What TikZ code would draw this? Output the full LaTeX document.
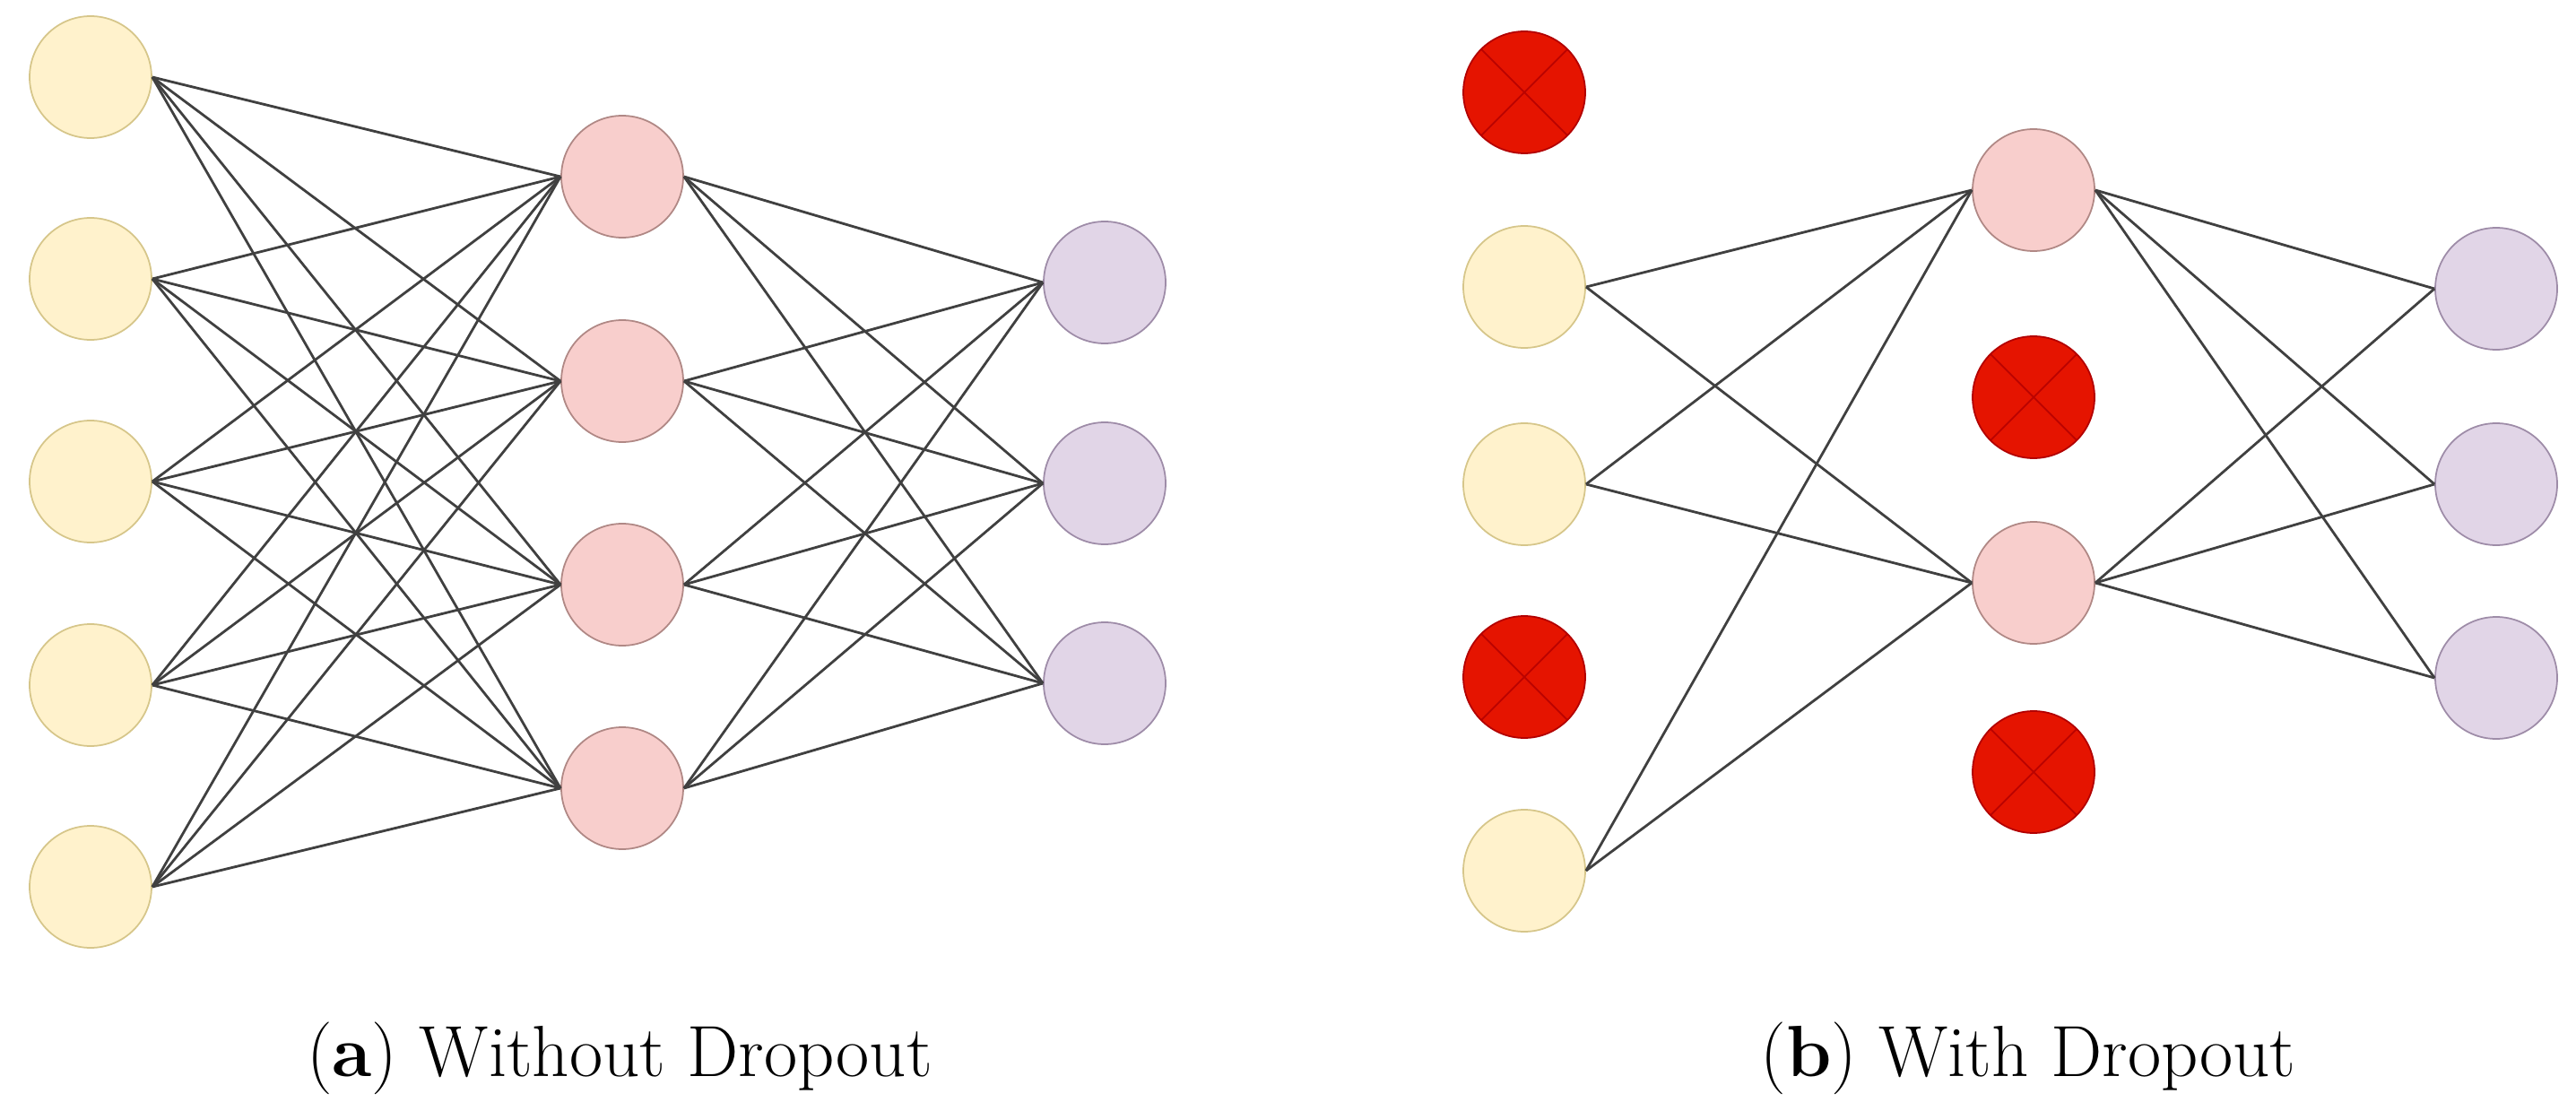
\documentclass[tikz,border=0pt]{standalone}
\usepackage{tikz}
\definecolor{inpfill}{HTML}{FFF2CC}
\definecolor{inpline}{HTML}{D6C68A}
\definecolor{hidfill}{HTML}{F8CECC}
\definecolor{hidline}{HTML}{B08885}
\definecolor{outfill}{HTML}{E1D5E7}
\definecolor{outborder}{HTML}{9E8CA8}
\definecolor{dropfill}{HTML}{E51400}
\definecolor{dropline}{HTML}{B20000}

\begin{document}
\begin{tikzpicture}[
    unit/.style={circle, minimum size=1.36cm, inner sep=0pt, line width=0.5pt},
    inp/.style={unit, draw=inpline, fill=inpfill},
    hid/.style={unit, draw=hidline, fill=hidfill},
    outp/.style={unit, draw=outborder, fill=outfill},
    drop/.style={unit, draw=dropline, fill=dropfill,
        path picture={\draw[dropline!85!dropfill, line width=0.5pt]
            (path picture bounding box.south west) -- (path picture bounding box.north east)
            (path picture bounding box.north west) -- (path picture bounding box.south east);}},
    wire/.style={draw=black!75, line width=0.8pt}
]
    \useasboundingbox (0,0) rectangle (28.73,-12.39);

    % (a) without dropout
    \foreach \n/\y in {1/-0.86,2/-3.11,3/-5.37,4/-7.64,5/-9.89}
        \node[inp] (a-i\n) at (1.01,\y) {};
    \foreach \n/\y in {1/-1.97,2/-4.25,3/-6.52,4/-8.79}
        \node[hid] (a-h\n) at (6.94,\y) {};
    \foreach \n/\y in {1/-3.15,2/-5.39,3/-7.62}
        \node[outp] (a-o\n) at (12.32,\y) {};
    \foreach \i in {1,...,5}
        \foreach \h in {1,...,4}
            \draw[wire] (a-i\i.east) -- (a-h\h.west);
    \foreach \h in {1,...,4}
        \foreach \o in {1,...,3}
            \draw[wire] (a-h\h.east) -- (a-o\o.west);

    % (b) with dropout
    \node[drop] (b-i1) at (17.00,-1.03) {};
    \node[inp]  (b-i2) at (17.00,-3.20) {};
    \node[inp]  (b-i3) at (17.00,-5.40) {};
    \node[drop] (b-i4) at (17.00,-7.55) {};
    \node[inp]  (b-i5) at (17.00,-9.71) {};
    \node[hid]  (b-h1) at (22.68,-2.12) {};
    \node[drop] (b-h2) at (22.68,-4.43) {};
    \node[hid]  (b-h3) at (22.68,-6.50) {};
    \node[drop] (b-h4) at (22.68,-8.61) {};
    \foreach \n/\y in {1/-3.22,2/-5.40,3/-7.56}
        \node[outp] (b-o\n) at (27.84,\y) {};
    \foreach \i in {2,3,5}
        \foreach \h in {1,3}
            \draw[wire] (b-i\i.east) -- (b-h\h.west);
    \foreach \h in {1,3}
        \foreach \o in {1,...,3}
            \draw[wire] (b-h\h.east) -- (b-o\o.west);

    % captions
    \node[anchor=base, inner sep=0pt, font=\fontsize{23}{27}\selectfont] (capa) at (6.91,-12.00)
        {(\textbf{a}) Without Dropout};
    \node[anchor=base, inner sep=0pt, font=\fontsize{23}{27}\selectfont] (capb) at (22.62,-12.00)
        {(\textbf{b}) With Dropout};
\end{tikzpicture}
\end{document}
